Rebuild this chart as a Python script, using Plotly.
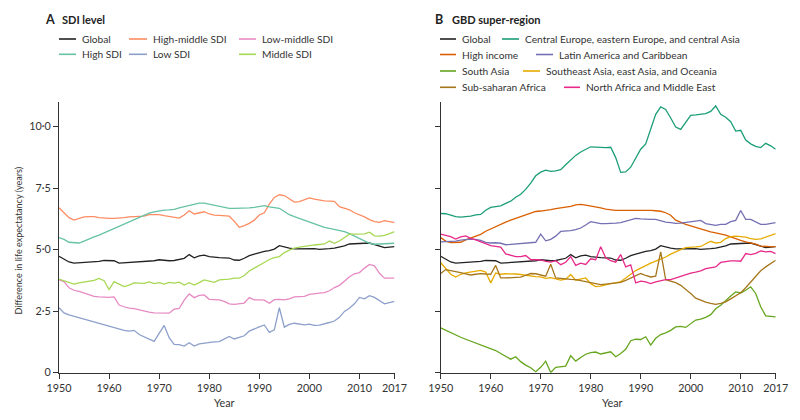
import plotly.graph_objects as go

years = list(range(1950, 2018))

# ---------------- Panel A: SDI level ----------------
global_le = [4.73, 4.62, 4.5, 4.45, 4.46, 4.47, 4.48, 4.5, 4.52, 4.56,
             4.56, 4.55, 4.45, 4.46, 4.48, 4.5, 4.51, 4.52, 4.54, 4.55,
             4.59, 4.57, 4.55, 4.56, 4.59, 4.65, 4.8, 4.67, 4.75, 4.78,
             4.72, 4.69, 4.68, 4.67, 4.66, 4.58, 4.57, 4.65, 4.76, 4.82,
             4.89, 4.93, 4.96, 5.02, 5.16, 5.1, 5.06, 5.03, 5.03, 5.04,
             5.05, 5.04, 5.01, 5.01, 5.04, 5.06, 5.09, 5.15, 5.23, 5.23,
             5.25, 5.26, 5.27, 5.2, 5.12, 5.08, 5.1, 5.12]
high_middle_sdi = [6.7, 6.48, 6.3, 6.2, 6.27, 6.33, 6.34, 6.34, 6.3, 6.27,
                   6.27, 6.27, 6.27, 6.3, 6.33, 6.34, 6.34, 6.36, 6.42, 6.43,
                   6.42, 6.38, 6.34, 6.3, 6.28, 6.41, 6.58, 6.45, 6.5, 6.54,
                   6.45, 6.4, 6.39, 6.39, 6.36, 6.15, 5.91, 5.98, 6.07, 6.2,
                   6.41, 6.5, 6.85, 7.12, 7.23, 7.2, 7.05, 6.93, 6.95, 7.02,
                   7.1, 7.05, 7.0, 6.98, 6.97, 6.96, 6.75, 6.68, 6.62, 6.5,
                   6.42, 6.33, 6.22, 6.14, 6.11, 6.18, 6.14, 6.1]
high_sdi = [5.49, 5.42, 5.3, 5.28, 5.27, 5.35, 5.45, 5.52, 5.59, 5.68,
            5.77, 5.85, 5.93, 6.03, 6.13, 6.22, 6.31, 6.4, 6.48, 6.54,
            6.58, 6.61, 6.62, 6.64, 6.7, 6.75, 6.8, 6.86, 6.89, 6.89,
            6.85, 6.8, 6.75, 6.7, 6.68, 6.68, 6.68, 6.69, 6.7, 6.72,
            6.76, 6.79, 6.74, 6.71, 6.68, 6.55, 6.42, 6.34, 6.27, 6.18,
            6.1, 6.04, 5.97, 5.91, 5.86, 5.82, 5.78, 5.73, 5.65, 5.56,
            5.45, 5.35, 5.26, 5.22, 5.23, 5.24, 5.25, 5.26]
low_middle_sdi = [3.77, 3.7, 3.45, 3.35, 3.3, 3.24, 3.17, 3.1, 3.08, 3.06,
                  3.06, 3.08, 2.75, 2.68, 2.62, 2.6, 2.55, 2.49, 2.46, 2.43,
                  2.42, 2.41, 2.42, 2.58, 2.61, 2.95, 3.2, 3.05, 3.14, 3.16,
                  2.98, 2.97, 2.96, 2.9, 2.8, 2.78, 2.82, 2.83, 3.05, 2.96,
                  2.96, 2.95, 2.82, 2.97, 2.98, 2.96, 3.0, 3.08, 3.09, 3.1,
                  3.18, 3.22, 3.23, 3.25, 3.33, 3.46, 3.55, 3.72, 3.9, 4.02,
                  4.07, 4.25, 4.4, 4.34, 4.04, 3.84, 3.84, 3.84]
low_sdi = [2.64, 2.43, 2.35, 2.29, 2.24, 2.19, 2.13, 2.05, 1.99, 1.94,
           1.9, 1.83, 1.76, 1.72, 1.69, 1.72, 1.55, 1.46, 1.37, 1.27,
           1.6, 1.92, 1.42, 1.15, 1.14, 1.08, 1.22, 1.08, 1.17, 1.2,
           1.24, 1.25, 1.26, 1.38, 1.47, 1.37, 1.45, 1.5, 1.69, 1.76,
           1.86, 1.94, 1.64, 1.74, 2.64, 1.85, 1.96, 2.01, 1.97, 1.94,
           1.97, 1.92, 1.93, 1.97, 2.04, 2.1, 2.25, 2.49, 2.62, 2.8,
           3.06, 3.0, 3.13, 3.06, 2.93, 2.8, 2.85, 2.9]
middle_sdi = [3.8, 3.74, 3.66, 3.6, 3.65, 3.68, 3.71, 3.75, 3.83, 3.74,
              3.38, 3.7, 3.6, 3.5, 3.56, 3.65, 3.64, 3.63, 3.69, 3.62,
              3.66, 3.6, 3.67, 3.64, 3.68, 3.56, 3.66, 3.56, 3.66, 3.77,
              3.72, 3.67, 3.77, 3.77, 3.8, 3.84, 3.84, 3.95, 4.13, 4.25,
              4.35, 4.48, 4.6, 4.68, 4.72, 4.88, 4.98, 5.06, 5.1, 5.14,
              5.17, 5.19, 5.21, 5.23, 5.35, 5.26, 5.35, 5.48, 5.63, 5.63,
              5.63, 5.64, 5.71, 5.56, 5.55, 5.58, 5.65, 5.73]

# ---------------- Panel B: GBD super-region ----------------
central_europe = [6.47, 6.46, 6.4, 6.34, 6.32, 6.33, 6.36, 6.41, 6.43, 6.6,
                  6.72, 6.75, 6.78, 6.88, 6.97, 7.13, 7.25, 7.45, 7.7, 8.0,
                  8.15, 8.23, 8.18, 8.2, 8.25, 8.45, 8.65, 8.83, 8.97, 9.08,
                  9.18, 9.17, 9.15, 9.15, 9.16, 8.74, 8.14, 8.16, 8.35, 8.7,
                  9.08, 9.3, 9.9, 10.5, 10.8, 10.7, 10.35, 9.98, 9.89, 10.2,
                  10.46, 10.48, 10.5, 10.53, 10.62, 10.84, 10.5, 10.38, 10.2, 9.82,
                  9.85, 9.45, 9.3, 9.2, 9.15, 9.32, 9.22, 9.08]
high_income = [5.49, 5.35, 5.29, 5.29, 5.3, 5.4, 5.48, 5.55, 5.62, 5.75,
               5.85, 5.93, 6.02, 6.12, 6.2, 6.27, 6.34, 6.41, 6.47, 6.55,
               6.57, 6.59, 6.63, 6.67, 6.69, 6.72, 6.76, 6.82, 6.84, 6.81,
               6.78, 6.74, 6.7, 6.65, 6.62, 6.6, 6.6, 6.6, 6.61, 6.62,
               6.62, 6.61, 6.6, 6.58, 6.56, 6.5, 6.4, 6.2, 6.1, 6.03,
               5.97, 5.9, 5.83, 5.76, 5.72, 5.68, 5.64, 5.59, 5.52, 5.44,
               5.38, 5.32, 5.28, 5.22, 5.14, 5.12, 5.12, 5.12]
latin_america = [5.32, 5.32, 5.32, 5.35, 5.39, 5.41, 5.43, 5.42, 5.38, 5.3,
                 5.27, 5.28, 5.26, 5.2, 5.22, 5.25, 5.26, 5.29, 5.29, 5.3,
                 5.63, 5.36, 5.42, 5.55, 5.74, 5.74, 5.77, 5.81, 5.88, 6.0,
                 6.14, 6.1, 6.06, 6.06, 6.06, 6.08, 6.1, 6.16, 6.2, 6.27,
                 6.25, 6.23, 6.23, 6.23, 6.17, 6.12, 6.1, 6.07, 6.08, 6.1,
                 6.12, 6.15, 6.19, 6.06, 6.02, 5.99, 6.03, 6.03, 6.14, 6.19,
                 6.59, 6.23, 6.23, 6.13, 6.03, 6.03, 6.05, 6.1]
south_asia = [1.82, 1.72, 1.62, 1.53, 1.44, 1.36, 1.28, 1.2, 1.12, 1.05,
              0.99, 0.9, 0.78, 0.66, 0.55, 0.65, 0.45, 0.31, 0.2, 0.04,
              0.22, 0.47, 0.01, 0.22, 0.25, 0.27, 0.69, 0.47, 0.62, 0.75,
              0.82, 0.84, 0.76, 0.82, 0.85, 0.65, 0.78, 0.95, 1.3, 1.36,
              1.35, 1.46, 1.12, 1.4, 1.55, 1.62, 1.72, 1.86, 1.88, 1.84,
              1.98, 2.14, 2.18, 2.25, 2.36, 2.6, 2.74, 2.95, 3.12, 3.28,
              3.24, 3.35, 3.49, 3.22, 2.68, 2.31, 2.28, 2.27]
southeast_asia = [4.47, 4.23, 4.0, 3.89, 4.0, 4.06, 4.1, 4.14, 4.16, 4.09,
                  3.65, 4.05, 4.0, 4.02, 4.03, 4.01, 3.99, 3.95, 3.92, 3.9,
                  3.89, 3.83, 3.86, 3.8, 3.76, 3.8, 3.99, 3.76, 3.82, 3.85,
                  3.62, 3.5, 3.52, 3.58, 3.62, 3.65, 3.7, 3.85, 4.0, 4.15,
                  4.25, 4.36, 4.45, 4.53, 4.6, 4.7, 4.82, 4.92, 5.0, 5.08,
                  5.11, 5.11, 5.13, 5.22, 5.34, 5.27, 5.3, 5.45, 5.53, 5.55,
                  5.53, 5.51, 5.45, 5.42, 5.44, 5.51, 5.58, 5.65]
sub_saharan = [4.03, 4.19, 4.15, 4.12, 4.07, 4.02, 3.97, 4.0, 4.03, 4.01,
               4.0, 4.36, 3.85, 3.85, 3.85, 3.86, 3.88, 3.96, 4.03, 4.02,
               3.96, 3.92, 4.41, 3.85, 3.83, 3.8, 3.79, 3.78, 3.74, 3.69,
               3.64, 3.59, 3.58, 3.6, 3.62, 3.64, 3.67, 3.75, 3.85, 3.95,
               4.03, 3.95, 3.89, 3.92, 4.91, 3.78, 3.72, 3.66, 3.55, 3.4,
               3.22, 3.03, 2.94, 2.87, 2.82, 2.78, 2.82, 2.88, 3.0, 3.12,
               3.25, 3.45, 3.68, 3.9, 4.14, 4.3, 4.43, 4.57]
north_africa = [5.63, 5.58, 5.53, 5.43, 5.52, 5.56, 5.46, 5.4, 5.33, 5.25,
                5.16, 5.13, 5.1, 4.83, 4.76, 4.72, 4.72, 4.76, 4.6, 4.59,
                4.58, 4.52, 4.49, 4.55, 4.39, 4.49, 4.72, 4.36, 4.45, 4.4,
                4.63, 4.59, 5.12, 4.67, 4.55, 4.49, 4.8, 4.3, 4.38, 3.65,
                3.72, 3.69, 3.62, 3.69, 3.74, 3.78, 3.78, 3.85, 3.9, 3.96,
                4.05, 4.09, 4.14, 4.23, 4.26, 4.3, 4.48, 4.52, 4.54, 4.54,
                4.53, 4.84, 4.8, 4.85, 4.95, 4.91, 4.93, 4.84]

names_a = ["Global", "High-middle SDI", "Low-middle SDI", "High SDI", "Low SDI", "Middle SDI"]
series_a = [global_le, high_middle_sdi, low_middle_sdi, high_sdi, low_sdi, middle_sdi]
colors_a = ["#222222", "#fc8d62", "#e78ac3", "#66c2a5", "#8da0cb", "#a6d854"]

names_b = ["Global", "Central Europe, eastern Europe, and central Asia", "High income",
           "Latin America and Caribbean", "South Asia", "Southeast Asia, east Asia, and Oceania",
           "Sub-saharan Africa", "North Africa and Middle East"]
series_b = [global_le, central_europe, high_income, latin_america, south_asia,
            southeast_asia, sub_saharan, north_africa]
colors_b = ["#222222", "#1b9e77", "#d95f02", "#7570b3", "#66a61e", "#e6ab02", "#a6761d", "#e7298a"]

x_tickvals = [1950, 1960, 1970, 1980, 1990, 2000, 2010, 2017]
x_ticktext = ["1950", "1960", "1970", "1980", "1990", "2000", "2010", "2017"]
y_tickvals = [0, 2.5, 5, 7.5, 10]
y_ticktext = ["0", "2·5", "5·0", "7·5", "10·0"]

FONT = "Lato, Liberation Sans, Arial, sans-serif"
TXT = "#333333"
FS = 10.2
# The page body has an 8px margin, so the figure is drawn 8px in from the top-left corner.
OFF = 8
W, H = 784, 404


def fx(px):
    return (px - OFF) / W


def fy(py):
    return 1 - (py - OFF) / H


fig = go.Figure()
for name, ys, c in zip(names_a, series_a, colors_a):
    fig.add_trace(go.Scatter(x=years, y=ys, mode="lines", name=name,
                             line=dict(color=c, width=1.3), xaxis="x", yaxis="y",
                             showlegend=False))
for name, ys, c in zip(names_b, series_b, colors_b):
    fig.add_trace(go.Scatter(x=years, y=ys, mode="lines", name=name,
                             line=dict(color=c, width=1.3), xaxis="x2", yaxis="y2",
                             showlegend=False))

axis_common = dict(showline=True, linecolor="#333333", linewidth=1, ticks="outside",
                   ticklen=5, tickcolor="#333333", showgrid=False, zeroline=False,
                   automargin=False,
                   tickfont=dict(family=FONT, size=10.8, color=TXT))
ydom = [fy(372.7), fy(102)]

fig.update_layout(
    width=W, height=H,
    margin=dict(l=0, r=0, t=0, b=0, pad=0, autoexpand=False),
    paper_bgcolor="white", plot_bgcolor="white",
    xaxis=dict(domain=[fx(59), fx(394.5)], range=[1950, 2017], anchor="y",
               tickvals=x_tickvals, ticktext=x_ticktext, **axis_common),
    yaxis=dict(domain=ydom, range=[0, 11], anchor="x",
               tickvals=y_tickvals, ticktext=y_ticktext, **axis_common),
    xaxis2=dict(domain=[fx(440.7), fx(775.7)], range=[1950, 2017], anchor="y2",
                tickvals=x_tickvals, ticktext=x_ticktext, **axis_common),
    yaxis2=dict(domain=ydom, range=[0, 11], anchor="x2",
                tickvals=y_tickvals, showticklabels=False, **axis_common),
)

annotations = []
shapes = []


def text(x, y, s, size=FS, bold=False, anchor="left", angle=0):
    annotations.append(dict(x=fx(x), y=fy(y), xref="paper", yref="paper",
                            text=(f"<b>{s}</b>" if bold else s),
                            showarrow=False, xanchor=anchor, yanchor="middle", textangle=angle,
                            font=dict(family=FONT, size=size, color="#222222" if bold else TXT)))


# Panel titles
text(42.5, 19, "A", size=12.5, bold=True)
text(59.5, 19.5, "SDI level", size=11, bold=True)
text(432.5, 19, "B", size=12.5, bold=True)
text(449.5, 19.5, "GBD super-region", size=11, bold=True)

# Axis titles
text(224.5, 402.5, "Year", size=10.8, anchor="center")
text(612, 402.5, "Year", size=10.8, anchor="center")
text(18, 240.5, "Difference in life expectatancy (years)", size=9.0, anchor="center", angle=-90)

# Manual legends
legend_a_pos = [(59, 76, 39), (129, 147, 39), (239, 256, 39),
                (59, 76, 54.3), (129, 147, 54.3), (239, 256, 54.3)]
legend_b_pos = [(440, 456, 39), (502, 519, 39),
                (440, 456, 54.5), (536, 553, 54.5),
                (440, 456, 71), (523, 540, 71),
                (440, 456, 87.3), (564, 580, 87.3)]


def legend_item(x0, x1, y, color, name):
    shapes.append(dict(type="line", xref="paper", yref="paper", x0=fx(x0), x1=fx(x1), y0=fy(y), y1=fy(y),
                       line=dict(color=color, width=1.6)))
    text(x1 + 4, y, name)


for (x0, x1, y), c, n in zip(legend_a_pos, colors_a, names_a):
    legend_item(x0, x1, y, c, n)
for (x0, x1, y), c, n in zip(legend_b_pos, colors_b, names_b):
    legend_item(x0, x1, y, c, n)

fig.update_layout(annotations=annotations, shapes=shapes)
fig.write_html("out.html")
